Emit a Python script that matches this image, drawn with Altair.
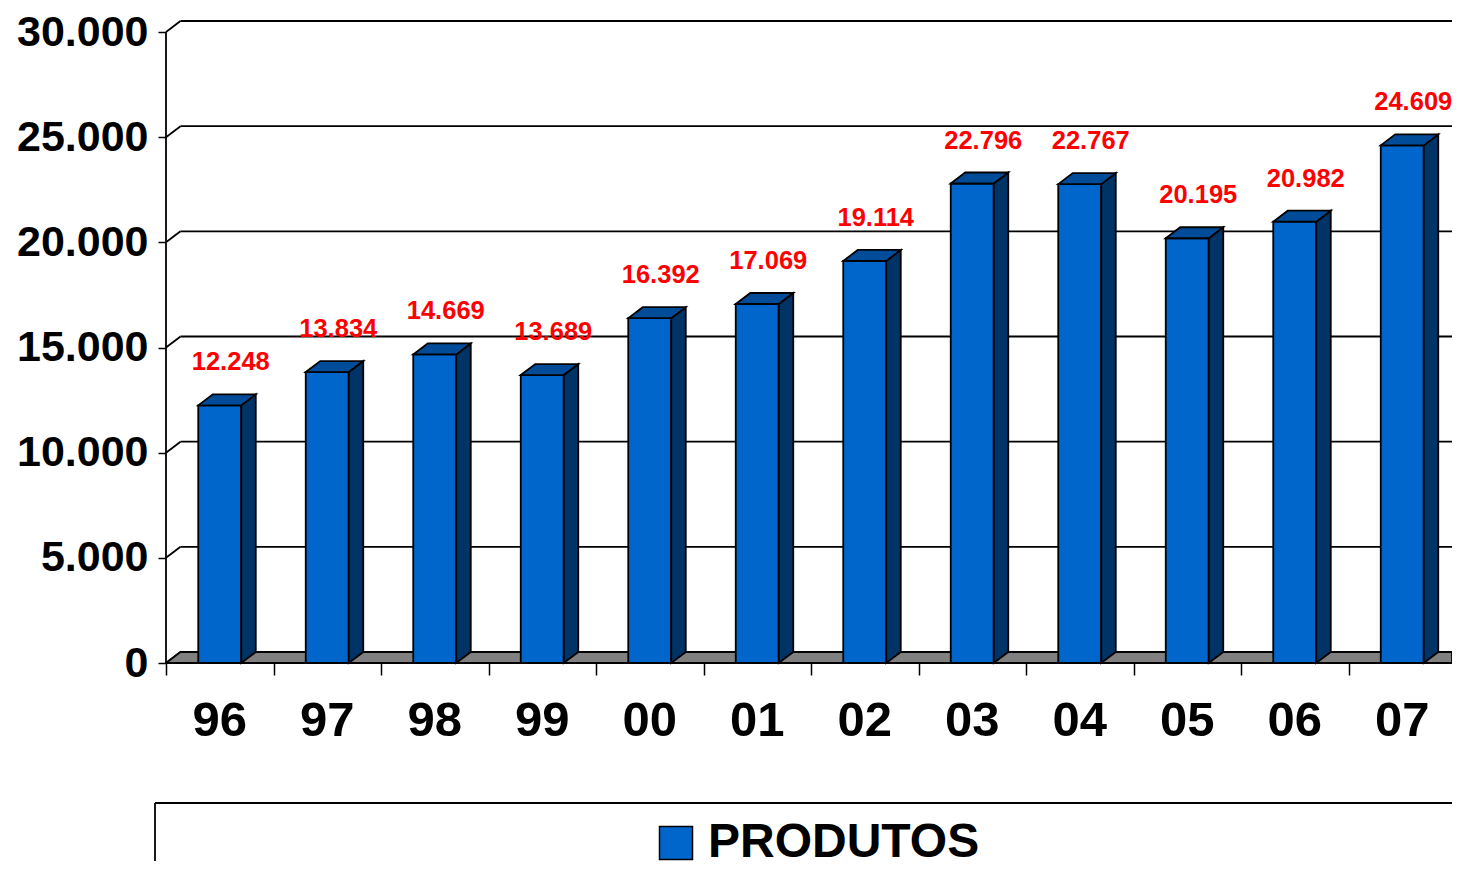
import altair as alt
import pandas as pd

# ---------------- data ----------------
YEARS = ["96", "97", "98", "99", "00", "01", "02", "03", "04", "05", "06", "07"]
VALUES = [12248, 13834, 14669, 13689, 16392, 17069, 19114, 22796, 22767, 20195, 20982, 24609]
SERIES = "PRODUTOS"
Y_TICKS = [0, 5000, 10000, 15000, 20000, 25000, 30000]

# ---------------- geometry / style ----------------
FONT = "Liberation Sans"
BAND_PX = 107.5                 # px per category
PX_PER_Y = 631 / 30000          # px per y unit
PLOT_W = 1286
PLOT_H = 647
PAD_B = 198
XMAX = PLOT_W / BAND_PX
YMAX = PLOT_H / PX_PER_Y
HALF = 21.5 / BAND_PX           # half width of bar front
DX = 14.5 / BAND_PX             # depth (x)
DY = 11 / PX_PER_Y              # depth (y)
N = len(YEARS)
FRONT, SIDE, TOP, FLOOR = "#0066CC", "#003366", "#004C99", "#808080"
LW = 1.8

bars = pd.DataFrame({"year": YEARS, "value": VALUES, "serie": [SERIES] * N})
bars["c"] = [i + 0.5 for i in range(N)]
bars["xl"] = bars["c"] - HALF
bars["xr"] = bars["c"] + HALF

faces = []
for i, v in enumerate(VALUES):
    c = i + 0.5
    xl, xr = c - HALF, c + HALF
    faces += [
        dict(face=f"s{i}", col=SIDE, x=xr, y=v, y2=0),
        dict(face=f"s{i}", col=SIDE, x=xr + DX, y=v + DY, y2=DY),
        dict(face=f"t{i}", col=TOP, x=xl, y=v, y2=v),
        dict(face=f"t{i}", col=TOP, x=xl + DX, y=v + DY, y2=v),
        dict(face=f"t{i}", col=TOP, x=xr, y=v + DY, y2=v),
        dict(face=f"t{i}", col=TOP, x=xr + DX, y=v + DY, y2=v + DY),
    ]
faces = pd.DataFrame(faces)

# floor, cut at the right edge of the drawing
cut = XMAX
floor = pd.DataFrame({
    "x": [0, DX, cut],
    "y": [0, DY, DY],
    "y2": [0, 0, 0],
    "face": ["floor"] * 3,
})

grid = pd.DataFrame({"t": Y_TICKS})
grid["tb"] = grid["t"] + DY
grid["x0"] = 0.0
grid["xb"] = DX
grid["xe"] = cut

XS = alt.Scale(domain=[0, XMAX], nice=False, zero=False)
YS = alt.Scale(domain=[0, YMAX], nice=False, zero=False)
AX_X = alt.Axis(values=[k for k in range(N + 1) if k <= XMAX], labels=False, tickSize=12,
                tickWidth=1.5, tickColor="black", domain=False, grid=False, title=None)
AX_Y = alt.Axis(values=Y_TICKS, labelExpr="replace(format(datum.value, ','), ',', '.')",
                labelFont=FONT, labelFontSize=43, labelFontWeight="bold", labelColor="black",
                labelPadding=10, labelOverlap=False, tickSize=8, tickWidth=1.5,
                tickColor="black", domain=False, grid=False, title=None)

# back-wall gridlines
gridlines = alt.Chart(grid).mark_rule(color="black", strokeWidth=LW).encode(
    x=alt.X("xb:Q", scale=XS, axis=AX_X), x2="xe:Q",
    y=alt.Y("tb:Q", scale=YS, axis=AX_Y), y2="tb:Q")

# side-wall connectors
connectors = alt.Chart(grid).mark_rule(color="black", strokeWidth=LW).encode(
    x=alt.X("x0:Q", scale=XS, axis=AX_X), x2="xb:Q",
    y=alt.Y("t:Q", scale=YS, axis=AX_Y), y2="tb:Q")

floor_l = alt.Chart(floor).mark_area(fill=FLOOR, stroke="black", strokeWidth=LW, fillOpacity=1).encode(
    x=alt.X("x:Q", scale=XS, axis=AX_X),
    y=alt.Y("y:Q", scale=YS, axis=AX_Y, stack=None), y2="y2:Q",
    detail="face:N")

yaxis_line = alt.Chart(alt.Data(values=[{"a": 0, "b": 30000}])).mark_rule(
    color="black", strokeWidth=LW).encode(
    x=alt.X("a:Q", scale=XS, axis=AX_X),
    y=alt.Y("a:Q", scale=YS, axis=AX_Y), y2="b:Q")

front = alt.Chart(bars).mark_rect(stroke="black", strokeWidth=LW).encode(
    x=alt.X("xl:Q", scale=XS, axis=AX_X), x2="xr:Q",
    y=alt.Y("value:Q", scale=YS, axis=AX_Y), y2=alt.datum(0),
    color=alt.Color("serie:N", scale=alt.Scale(domain=[SERIES], range=[FRONT]),
                    legend=alt.Legend(orient="none", legendX=486, legendY=803, title=None,
                                      symbolType="square", symbolSize=1089,
                                      symbolStrokeColor="black", symbolStrokeWidth=1.5,
                                      labelFont=FONT, labelFontSize=48, labelFontWeight="bold",
                                      labelColor="black", labelOffset=8, padding=0,
                                      labelLimit=400)))

faces_l = alt.Chart(faces).mark_area(stroke="black", strokeWidth=LW, fillOpacity=1,
                                     strokeJoin="miter").encode(
    x=alt.X("x:Q", scale=XS, axis=AX_X),
    y=alt.Y("y:Q", scale=YS, axis=AX_Y, stack=None), y2="y2:Q",
    fill=alt.Fill("col:N", scale=None),
    detail="face:N")

value_labels = alt.Chart(bars).transform_calculate(
    lbl="replace(format(datum.value, ','), ',', '.')"
).mark_text(font=FONT, fontSize=25.5, fontWeight="bold", color="#FF0000",
            baseline="middle", align="center", dx=11, dy=-43).encode(
    x=alt.X("c:Q", scale=XS, axis=AX_X),
    y=alt.Y("value:Q", scale=YS, axis=AX_Y),
    text="lbl:N")

cat_labels = alt.Chart(bars).mark_text(font=FONT, fontSize=49, fontWeight="bold", color="black",
                                      baseline="middle", align="center", dy=58).encode(
    x=alt.X("c:Q", scale=XS, axis=AX_X),
    y=alt.datum(0, scale=YS),
    text="year:N")

dummy = alt.Data(values=[{"k": 1}])
box_top = alt.Chart(dummy).mark_rule(color="black", strokeWidth=LW).encode(
    x=alt.value(-11), x2=alt.value(PLOT_W), y=alt.value(787), y2=alt.value(787))
box_left = alt.Chart(dummy).mark_rule(color="black", strokeWidth=LW).encode(
    x=alt.value(-11), x2=alt.value(-11), y=alt.value(787), y2=alt.value(PLOT_H + PAD_B))

chart = alt.layer(
    gridlines, connectors, floor_l, yaxis_line, front, faces_l,
    value_labels, cat_labels, box_top, box_left
).properties(
    width=PLOT_W, height=PLOT_H,
    autosize=alt.AutoSizeParams(type="none"),
    padding={"left": 158, "top": 8, "right": 0, "bottom": PAD_B},
    background="white",
).configure_view(strokeWidth=0)

chart.save("out.html", embed_options={"renderer": "svg", "actions": False})
